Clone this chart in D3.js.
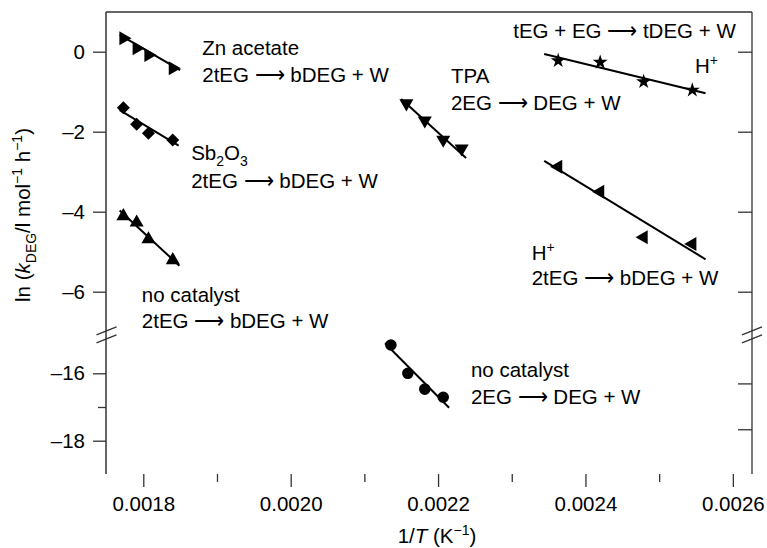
<!DOCTYPE html>
<html><head><meta charset="utf-8">
<script src="https://cdn.jsdelivr.net/npm/d3@7"></script>
<style>
body{margin:0;background:#fff;}
svg{display:block;font-family:"Liberation Sans",Arial,Helvetica,sans-serif;}
</style></head>
<body><svg id="c" width="767" height="548"></svg>
<script>
// ---------- data ----------
const xTicks = [0.0018, 0.0020, 0.0022, 0.0024, 0.0026];
const xMinorTicks = [0.0019, 0.0021, 0.0023, 0.0025];
const yUpperTicks = [0, -2, -4, -6];
const yLowerTicks = [-16, -18];
const yLowerMinor = [-17];
const rightLowerTicks = [-16.3, -17.66];

const tEGx = [0.001773, 0.001791, 0.001807, 0.00184];
const znY = [0.335, 0.085, -0.08, -0.415];
const sbY = [-1.4, -1.815, -2.04, -2.21];
const noCatTegY = [-4.11, -4.27, -4.69, -5.21];
const tpaX = [0.002157, 0.002182, 0.002207, 0.002232];
const tpaY = [-1.29, -1.72, -2.2, -2.42];
const noCatEgX = [0.002136, 0.002159, 0.002182, 0.002207];
const noCatEgY = [-15.16, -16.0, -16.47, -16.71];
const hX = [0.002363, 0.00242, 0.002479, 0.002545];
const hStarY = [-0.225, -0.265, -0.75, -0.96];
const hTriY = [-2.875, -3.5, -4.64, -4.81];

// fitted line endpoints: [x0,x1],[y0,y1]
const fits = [
  {seg:"u", x:[0.001768, 0.00185], y:[0.42, -0.46]},
  {seg:"u", x:[0.001768, 0.001848], y:[-1.46, -2.35]},
  {seg:"u", x:[0.001768, 0.001849], y:[-3.97, -5.35]},
  {seg:"u", x:[0.00215, 0.002238], y:[-1.18, -2.66]},
  {seg:"l", x:[0.002128, 0.002215], y:[-15.11, -17.02]},
  {seg:"u", x:[0.002344, 0.002563], y:[-0.058, -1.04]},
  {seg:"u", x:[0.002344, 0.002563], y:[-2.73, -5.19]}
];

// ---------- layout ----------
const svg = d3.select("#c");
const L = 106, R = 752, T = 12, B = 474;
const x = d3.scaleLinear().domain([0.0017494, 0.002626]).range([L, R]);
const yU = d3.scaleLinear().domain([-7, 1]).range([331.7, 11.7]);
const yL = d3.scaleLinear().domain([-19, -15]).range([474.4, 339.6]);
const ink = "#000", axisCol = "#333";
const FS = 20.5, SFS = 14;

// frame
svg.append("line").attr("x1",L).attr("x2",R).attr("y1",T).attr("y2",T).attr("stroke",axisCol).attr("stroke-width",1.3);
svg.append("line").attr("x1",L).attr("x2",L).attr("y1",T).attr("y2",B).attr("stroke",axisCol).attr("stroke-width",1.5);
svg.append("line").attr("x1",R).attr("x2",R).attr("y1",T).attr("y2",B).attr("stroke",axisCol).attr("stroke-width",1.3);

const minusFmt = d => (d < 0 ? "\u2013" : "") + Math.abs(d);

// bottom axis
svg.append("g").attr("transform",`translate(0,${B})`)
  .call(d3.axisBottom(x).tickValues(xTicks).tickSize(13).tickPadding(9).tickFormat(d3.format(".4f")));
svg.append("g").attr("transform",`translate(0,${B})`)
  .call(d3.axisBottom(x).tickValues(xMinorTicks).tickSize(8).tickFormat(""));
// left axis upper / lower
svg.append("g").attr("transform",`translate(${L},0)`)
  .call(d3.axisLeft(yU).tickValues(yUpperTicks).tickSize(13).tickPadding(8).tickFormat(minusFmt));
svg.append("g").attr("transform",`translate(${L},0)`)
  .call(d3.axisLeft(yL).tickValues(yLowerTicks).tickSize(13).tickPadding(8).tickFormat(minusFmt));
svg.append("g").attr("transform",`translate(${L},0)`)
  .call(d3.axisLeft(yL).tickValues(yLowerMinor).tickSize(8).tickFormat(""));
// right axis inner ticks
svg.append("g").attr("transform",`translate(${R},0)`)
  .call(d3.axisLeft(yU).tickValues(yUpperTicks).tickSize(14).tickFormat(""));
svg.append("g").attr("transform",`translate(${R},0)`)
  .call(d3.axisLeft(yL).tickValues(rightLowerTicks).tickSize(14).tickFormat(""));

svg.selectAll("g .domain").remove();
svg.selectAll("g .tick line").attr("stroke",axisCol).attr("stroke-width",1.3);
svg.selectAll("g .tick text").attr("font-size",FS).attr("fill",ink)
  .attr("font-family","'Liberation Sans',Arial,sans-serif");

// axis breaks
function brk(cx, cy){
  [-4, 4].forEach(o=>{
    svg.append("line").attr("x1",cx-10).attr("y1",cy+o+4).attr("x2",cx+10).attr("y2",cy+o-4)
      .attr("stroke",axisCol).attr("stroke-width",1.4);
  });
}
brk(L+0.5, 334.8);
brk(R, 334.8);

// fitted lines
const plot = svg.append("g");
fits.forEach(f=>{
  const ys = f.seg==="u"? yU : yL;
  plot.append("line").attr("x1",x(f.x[0])).attr("x2",x(f.x[1]))
    .attr("y1",ys(f.y[0])).attr("y2",ys(f.y[1])).attr("stroke",ink).attr("stroke-width",2);
});

// markers
function markers(xs, ys, yScale, type, size, rot){
  const sym = d3.symbol().type(type).size(size);
  plot.selectAll(null).data(xs.map((v,i)=>[v, ys[i]])).enter().append("path")
    .attr("d", sym)
    .attr("transform", d=>`translate(${x(d[0])},${yScale(d[1])}) rotate(${rot})`)
    .attr("fill", ink);
}
markers(tEGx, znY, yU, d3.symbolTriangle, 85, 90);
markers(tEGx, sbY, yU, d3.symbolSquare, 85, 45);
markers(tEGx, noCatTegY, yU, d3.symbolTriangle, 85, 0);
markers(tpaX, tpaY, yU, d3.symbolTriangle, 85, 180);
markers(noCatEgX, noCatEgY, yL, d3.symbolCircle, 105, 0);
markers(hX, hStarY, yU, d3.symbolStar, 70, 0);
markers(hX, hTriY, yU, d3.symbolTriangle, 85, 270);

// annotations (anchor in data coordinates)
function label(xv, yv, ys, parts){
  const t = svg.append("text").attr("x", x(xv)).attr("y", ys(yv)).attr("font-size",FS).attr("fill",ink);
  parts.forEach(p=>{
    const s = t.append("tspan").text(p.t);
    if(p.dy) s.attr("dy",p.dy);
    if(p.fs) s.attr("font-size",p.fs);
    if(p.it) s.attr("font-style","italic");
  });
  return t;
}
const ARW = " \u27F6 ";
label(0.00188, -0.08, yU, [{t:"Zn acetate"}]);
label(0.00188, -0.75, yU, [{t:"2tEG"+ARW+"bDEG + W"}]);
label(0.001865, -2.71, yU, [{t:"Sb"},{t:"2",dy:6,fs:SFS},{t:"O",dy:-6},{t:"3",dy:6,fs:SFS}]);
label(0.001865, -3.41, yU, [{t:"2tEG"+ARW+"bDEG + W"}]);
label(0.001798, -6.25, yU, [{t:"no catalyst"}]);
label(0.001798, -6.915, yU, [{t:"2tEG"+ARW+"bDEG + W"}]);
label(0.0022175, -0.78, yU, [{t:"TPA"}]);
label(0.0022175, -1.46, yU, [{t:"2EG"+ARW+"DEG + W"}]);
label(0.002302, 0.34, yU, [{t:"tEG + EG"+ARW+"tDEG + W"}]);
label(0.0025486, -0.54, yU, [{t:"H"},{t:"+",dy:-8,fs:SFS}]);
label(0.002327, -5.21, yU, [{t:"H"},{t:"+",dy:-8,fs:SFS}]);
label(0.002327, -5.83, yU, [{t:"2tEG"+ARW+"bDEG + W"}]);
label(0.0022446, -16.1, yL, [{t:"no catalyst"}]);
label(0.0022446, -16.92, yL, [{t:"2EG"+ARW+"DEG + W"}]);

// axis titles
const xt = svg.append("text").attr("x",437).attr("y",543).attr("text-anchor","middle").attr("font-size",FS).attr("fill",ink);
xt.append("tspan").text("1/");
xt.append("tspan").text("T").attr("font-style","italic");
xt.append("tspan").text(" (K");
xt.append("tspan").text("\u22121").attr("dy",-8).attr("font-size",SFS);
xt.append("tspan").text(")").attr("dy",8);

const yt = svg.append("text").attr("transform","translate(30,215) rotate(-90)").attr("text-anchor","middle").attr("font-size",FS).attr("fill",ink);
yt.append("tspan").text("ln (");
yt.append("tspan").text("k").attr("font-style","italic");
yt.append("tspan").text("DEG").attr("dy",6).attr("font-size",SFS);
yt.append("tspan").text("/l mol").attr("dy",-6);
yt.append("tspan").text("\u22121").attr("dy",-8).attr("font-size",SFS);
yt.append("tspan").text(" h").attr("dy",8);
yt.append("tspan").text("\u22121").attr("dy",-8).attr("font-size",SFS);
yt.append("tspan").text(")").attr("dy",8);
</script></body></html>
